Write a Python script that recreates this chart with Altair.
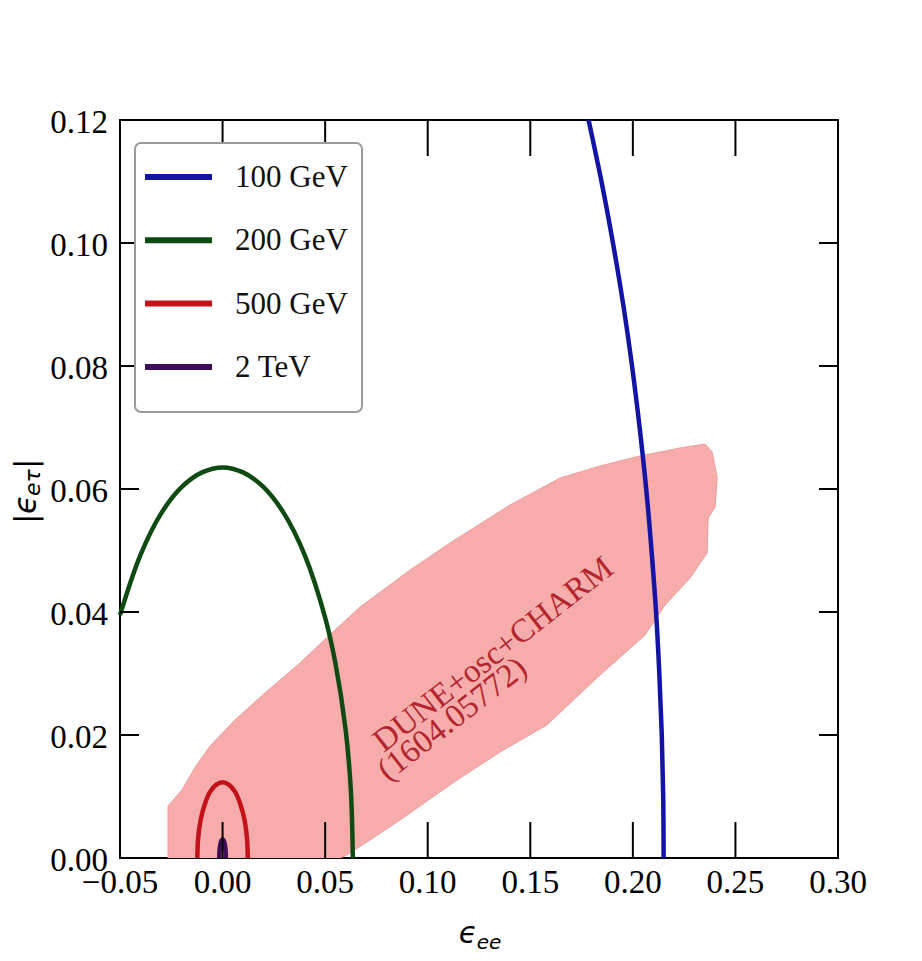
import altair as alt
import pandas as pd

# ---------------- data ----------------
series = ["100 GeV", "200 GeV", "500 GeV", "2 TeV"]
colors = ["#1414a4", "#0e4a12", "#c4121b", "#3e0f58"]

x_100 = [0.1784, 0.1847, 0.1903, 0.1953, 0.1996, 0.2033, 0.2065, 0.2091, 0.2113, 0.2129, 0.2141, 0.2148, 0.2150]
y_100 = [0.120, 0.110, 0.100, 0.090, 0.080, 0.070, 0.060, 0.050, 0.040, 0.030, 0.020, 0.010, 0.000]

x_200 = [-0.050, -0.040, -0.030, -0.020, -0.010, 0.000, 0.010, 0.020, 0.030, 0.040, 0.050, 0.055, 0.060, 0.0625, 0.0635]
y_200 = [0.0395, 0.0493, 0.0560, 0.0603, 0.0627, 0.0635, 0.0627, 0.0603, 0.0560, 0.0493, 0.0391, 0.0317, 0.0208, 0.0112, 0.0000]

x_500 = [-0.0123, -0.0119, -0.0107, -0.0087, -0.0062, -0.0032, 0.0000, 0.0032, 0.0062, 0.0087, 0.0107, 0.0119, 0.0123]
y_500 = [0.0000, 0.0032, 0.0062, 0.0087, 0.0107, 0.0119, 0.0123, 0.0119, 0.0107, 0.0087, 0.0062, 0.0032, 0.0000]

x_2t = [-0.0016, -0.00155, -0.00139, -0.00113, -0.0008, -0.00041, 0.0000, 0.00041, 0.0008, 0.00113, 0.00139, 0.00155, 0.0016]
y_2t = [0.0000, 0.00078, 0.0015, 0.00212, 0.0026, 0.0029, 0.0030, 0.0029, 0.0026, 0.00212, 0.0015, 0.00078, 0.0000]

# DUNE+osc+CHARM allowed region (outline, clockwise from lower-left corner)
region_x = [-0.0266, -0.0266, -0.0198, -0.0130, -0.0061, 0.0060, 0.0207, 0.0377, 0.0520, 0.0670, 0.0914,
            0.1123, 0.1401, 0.1645, 0.1840, 0.2035, 0.2230, 0.2352, 0.2386, 0.2411, 0.2401,
            0.2367, 0.2362, 0.2279, 0.2157, 0.2060, 0.1840, 0.1581, 0.1353, 0.1143, 0.0865,
            0.0719, 0.0597, 0.0572]
region_y = [0.0000, 0.00846, 0.01106, 0.01496, 0.01821, 0.02244, 0.02683, 0.03171, 0.03620, 0.04080, 0.04683,
            0.05154, 0.05740, 0.06179, 0.06374, 0.06537, 0.06667, 0.06732, 0.06602, 0.06195, 0.05707,
            0.05528, 0.04959, 0.04553, 0.04114, 0.03626, 0.02976, 0.02163, 0.01724, 0.01268, 0.00618,
            0.00293, 0.00033, 0.0000]

x_ticks = [-0.05, 0.00, 0.05, 0.10, 0.15, 0.20, 0.25, 0.30]
y_ticks = [0.00, 0.02, 0.04, 0.06, 0.08, 0.10, 0.12]

region_label = ["DUNE+osc+CHARM", "(1604.05772)"]

# ---------------- layout / style ----------------
W, H = 718, 738
SERIF = "Liberation Serif"
SANS = "DejaVu Sans"

xscale = alt.Scale(domain=[-0.05, 0.30], nice=False, zero=False)
yscale = alt.Scale(domain=[0.0, 0.12], nice=False, zero=False)
xaxis = alt.Axis(values=x_ticks, title=None, grid=False, ticks=False, domain=False, labels=False)
yaxis = alt.Axis(values=y_ticks, title=None, grid=False, ticks=False, domain=False, labels=False)

rows = []
for name, xs, ys in zip(series, [x_100, x_200, x_500, x_2t], [y_100, y_200, y_500, y_2t]):
    for i, (a, b) in enumerate(zip(xs, ys)):
        rows.append({"series": name, "x": a, "y": b, "i": i})
curves_df = pd.DataFrame(rows)
region_df = pd.DataFrame({"x": region_x, "y": region_y, "i": list(range(len(region_x)))})
xt_df = pd.DataFrame({"t": x_ticks, "lab": [f"{v:.2f}".replace("-", "\u2212") for v in x_ticks]})
yt_df = pd.DataFrame({"t": y_ticks, "lab": [f"{v:.2f}" for v in y_ticks]})
one = pd.DataFrame({"k": [0]})

X = lambda f: alt.X(f, scale=xscale, axis=xaxis)
Y = lambda f: alt.Y(f, scale=yscale, axis=yaxis)

region = alt.Chart(region_df).mark_line(fill="#f7acac", stroke="#f09c9c", strokeWidth=1).encode(
    x=X("x:Q"), y=Y("y:Q"), order="i:Q")

ann1 = alt.Chart(one).mark_text(angle=322, font=SERIF, fontSize=33, color="#b3262e",
                                align="center", baseline="alphabetic").encode(
    x=alt.datum(0.135), y=alt.datum(0.0318), text=alt.value(region_label[0]))
ann2 = alt.Chart(one).mark_text(angle=322, font=SERIF, fontSize=33, color="#b3262e",
                                align="center", baseline="alphabetic").encode(
    x=alt.datum(0.1150), y=alt.datum(0.0213), text=alt.value(region_label[1]))

curves = alt.Chart(curves_df).mark_line(strokeWidth=4.5, interpolate="catmull-rom").encode(
    x=X("x:Q"), y=Y("y:Q"),
    color=alt.Color("series:N", scale=alt.Scale(domain=series, range=colors), legend=None),
    order="i:Q")

# inward ticks on all four sides
TX, TY = 36, 19
tick_b = alt.Chart(xt_df).mark_rule(color="black", strokeWidth=2).encode(
    x=X("t:Q"), y=alt.value(H), y2=alt.value(H - TX))
tick_t = alt.Chart(xt_df).mark_rule(color="black", strokeWidth=2).encode(
    x=X("t:Q"), y=alt.value(0), y2=alt.value(TX))
tick_l = alt.Chart(yt_df).mark_rule(color="black", strokeWidth=2).encode(
    y=Y("t:Q"), x=alt.value(0), x2=alt.value(TY))
tick_r = alt.Chart(yt_df).mark_rule(color="black", strokeWidth=2).encode(
    y=Y("t:Q"), x=alt.value(W), x2=alt.value(W - TY))

# tick labels (serif, as in the reference)
lab_x = alt.Chart(xt_df).mark_text(
    font=SERIF, fontSize=33, color="black", align="center", baseline="top").encode(
    x=X("t:Q"), y=alt.value(H + 9), text="lab:N")
lab_y = alt.Chart(yt_df).mark_text(
    font=SERIF, fontSize=33, color="black", align="right", baseline="middle", dy=3).encode(
    y=Y("t:Q"), x=alt.value(-12), text="lab:N")

# legend (drawn by hand, inside the plot, upper left)
legend_layers = [
    alt.Chart(one).mark_rect(fill="white", stroke="#9a9a9a", strokeWidth=2, cornerRadius=6).encode(
        x=alt.value(15), x2=alt.value(242), y=alt.value(23), y2=alt.value(292))
]
for i, (name, col) in enumerate(zip(series, colors)):
    ry = 57 + 63.3 * i
    legend_layers.append(alt.Chart(one).mark_rule(strokeWidth=6).encode(
        x=alt.value(25), x2=alt.value(92), y=alt.value(ry), color=alt.value(col)))
    legend_layers.append(alt.Chart(one).mark_text(font=SERIF, fontSize=31, color="#111111",
                                                  align="left", baseline="middle").encode(
        x=alt.value(115), y=alt.value(ry + 1), text=alt.value(name)))

# axis titles built from text pieces (main symbol + subscript)
def txt(s, px, py, size, italic=True, angle=0, align="center"):
    kw = dict(font=SANS, fontSize=size, color="black", align=align, baseline="alphabetic")
    if italic:
        kw["fontStyle"] = "italic"
    if angle:
        kw["angle"] = angle
    return alt.Chart(one).mark_text(**kw).encode(x=alt.value(px), y=alt.value(py), text=alt.value(s))

titles = [
    txt("ϵ", 348, 823, 30),
    txt("ee", 369, 829, 20),
    txt("|", -84, 404, 31, italic=False, angle=270, align="left"),
    txt("ϵ", -84, 394, 31, angle=270, align="left"),
    txt("eτ", -80, 376, 22, angle=270, align="left"),
    txt("|", -84, 349, 31, italic=False, angle=270, align="left"),
]

chart = alt.layer(region, ann1, ann2, curves, tick_b, tick_t, tick_l, tick_r, lab_x, lab_y,
                  *legend_layers, *titles).properties(
    width=W, height=H,
    autosize=alt.AutoSizeParams(type="none"),
    padding={"left": 112, "top": 112, "right": 76, "bottom": 95},
    background="white",
).configure_view(
    stroke="black", strokeWidth=2
)

chart.save("out.html", embed_options={"renderer": "svg", "actions": False})
